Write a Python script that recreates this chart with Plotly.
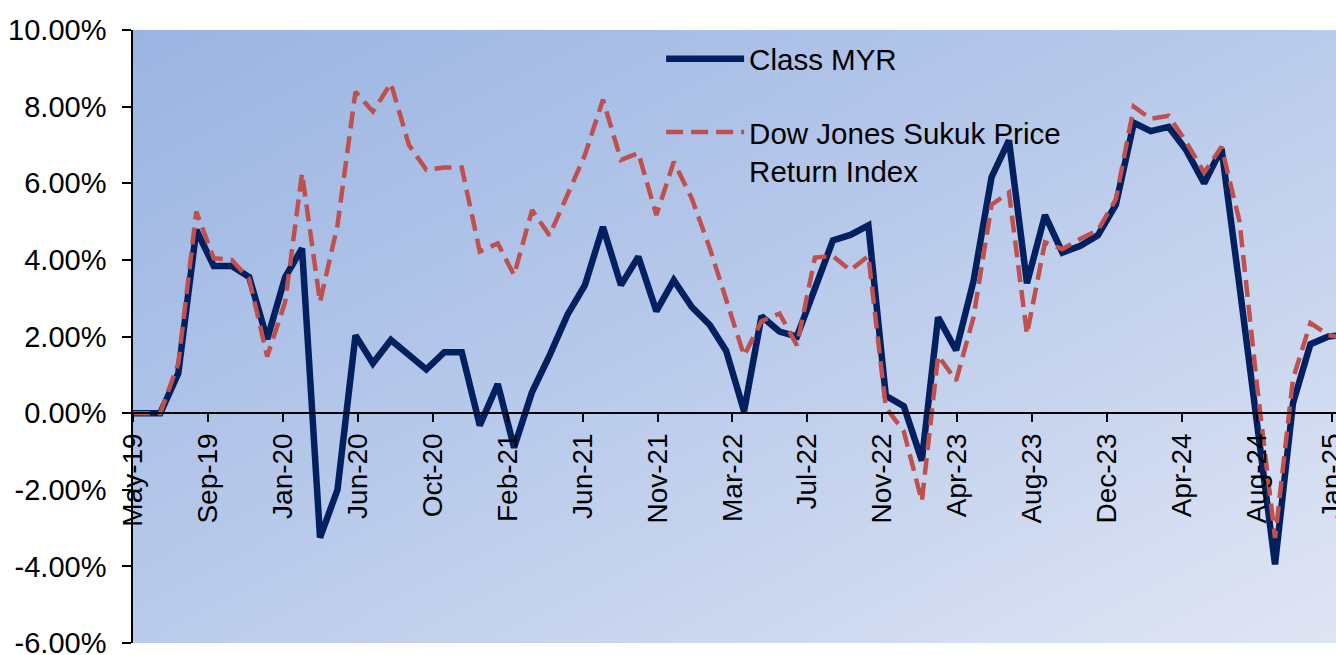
import base64
import pandas as pd
import plotly.graph_objects as go

# ---------------- data ----------------
launch_date = "2019-05-14"
month_ends = pd.date_range("2019-06-30", "2025-01-31", freq="ME").strftime("%Y-%m-%d").tolist()
dates = [launch_date] + month_ends

class_myr = [
    0.00,
    0.00, 1.04, 4.78, 3.84, 3.84, 3.55, 1.93,                              # Jun-Dec 2019
    3.55, 4.30, -3.25, -2.00, 2.03, 1.30, 1.91, 1.52, 1.14, 1.59, 1.59, -0.32,  # 2020
    0.76, -0.90, 0.55, 1.50, 2.57, 3.34, 4.86, 3.34, 4.08, 2.66, 3.47, 2.77,   # 2021
    2.30, 1.63, 0.05, 2.53, 2.13, 2.00, 3.30, 4.51, 4.65, 4.90, 0.45, 0.18,    # 2022
    -1.24, 2.50, 1.64, 3.45, 6.16, 7.12, 3.39, 5.17, 4.19, 4.37, 4.64, 5.44,   # 2023
    7.58, 7.36, 7.47, 6.87, 6.00, 6.90, 3.30, -0.40, -3.95, 0.26, 1.80, 2.00,  # 2024
    2.05,                                                                   # Jan 2025
]

dow_jones_sukuk = [
    0.00,
    0.00, 1.30, 5.26, 4.04, 4.00, 3.50, 1.48,                              # Jun-Dec 2019
    2.90, 6.26, 2.90, 4.90, 8.39, 7.87, 8.61, 7.00, 6.35, 6.41, 6.41, 4.22,    # 2020
    4.43, 3.60, 5.30, 4.64, 5.70, 6.74, 8.18, 6.61, 6.79, 5.17, 6.56, 5.60,    # 2021
    4.30, 3.00, 1.50, 2.40, 2.60, 1.77, 4.06, 4.10, 3.73, 4.10, 0.15, -0.48,   # 2022
    -2.30, 1.50, 0.85, 2.50, 5.44, 5.76, 2.06, 4.46, 4.28, 4.55, 4.77, 5.58,   # 2023
    8.00, 7.68, 7.76, 7.08, 6.28, 6.95, 5.00, 0.60, -3.26, 0.90, 2.35, 2.04,   # 2024
    1.95,                                                                   # Jan 2025
]

series_names = ["Class MYR", "Dow Jones Sukuk Price<br>Return Index"]
y_tick_values = [-6, -4, -2, 0, 2, 4, 6, 8, 10]
y_tick_labels = ["-6.00%", "-4.00%", "-2.00%", "0.00%", "2.00%", "4.00%", "6.00%", "8.00%", "10.00%"]

# ---------------- styling ----------------
FONT = "Liberation Sans, Arial, sans-serif"
NAVY = "#002060"
RED = "#C0504D"

x_start = pd.Timestamp(launch_date)
x_end = x_start + pd.Timedelta(days=2071)
tick_step_ms = 129 * 86400000

svg = (
    "<svg xmlns='http://www.w3.org/2000/svg' width='400' height='200' viewBox='0 0 400 200' preserveAspectRatio='none'>"
    "<defs><linearGradient id='g' x1='0' y1='0' x2='1' y2='1'>"
    "<stop offset='0' stop-color='#9AB4E2'/>"
    "<stop offset='0.5' stop-color='#BACBEB'/>"
    "<stop offset='1' stop-color='#E0E5F4'/>"
    "</linearGradient></defs>"
    "<rect width='400' height='200' fill='url(#g)'/></svg>"
)
bg_uri = "data:image/svg+xml;base64," + base64.b64encode(svg.encode()).decode()

fig = go.Figure()
fig.add_trace(go.Scatter(
    x=dates, y=class_myr, mode="lines", name=series_names[0],
    line=dict(color=NAVY, width=6.5), legendgroup="a",
))
fig.add_trace(go.Scatter(
    x=dates, y=dow_jones_sukuk, mode="lines", name=series_names[1],
    line=dict(color=RED, width=4.5, dash="17px,8px"), legendgroup="b",
))

fig.update_layout(
    width=1336, height=655,
    margin=dict(l=133, r=0, t=30, b=12),
    paper_bgcolor="white",
    plot_bgcolor="rgba(0,0,0,0)",
    font=dict(family=FONT, size=29, color="black"),
    images=[dict(source=bg_uri, xref="paper", yref="paper", x=0, y=1, sizex=1, sizey=1,
                 xanchor="left", yanchor="top", sizing="stretch", layer="below")],
    legend=dict(
        x=0.439, y=0.995, xanchor="left", yanchor="top",
        bgcolor="rgba(0,0,0,0)", font=dict(size=29.5, family=FONT, color="black"),
        valign="top", tracegroupgap=32, itemwidth=78,
    ),
    showlegend=True,
)

fig.update_xaxes(
    type="date", range=[x_start, x_end],
    anchor="free", position=0.375,
    tick0=x_start, dtick=tick_step_ms, tickformat="%b-%y", tickangle=-90,
    ticks="outside", ticklen=8, tickwidth=2, tickcolor="black",
    showline=True, linecolor="black", linewidth=2,
    showgrid=False, zeroline=False, automargin=False, ticklabeloverflow="allow",
    tickfont=dict(size=28, family=FONT, color="black"),
)
fig.update_yaxes(
    range=[-6, 10], tickvals=y_tick_values, ticktext=y_tick_labels,
    ticks="outside", ticklen=9, tickwidth=1.5, tickcolor="black",
    showline=True, linecolor="black", linewidth=1.5,
    showgrid=False, zeroline=False, automargin=False, ticklabelstandoff=10,
    ticklabeloverflow="allow",
    tickfont=dict(size=29, family=FONT, color="black"),
)

fig.write_html("out.html", config={"displayModeBar": False},
               post_script="document.body.style.margin='0px';")
